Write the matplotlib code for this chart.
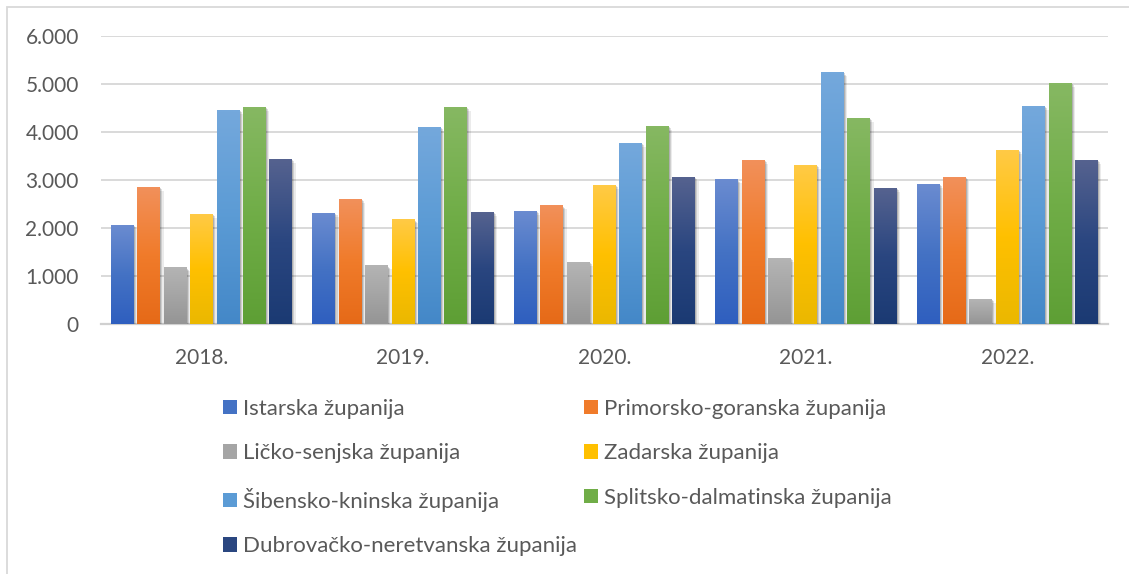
import numpy as np
import matplotlib
matplotlib.use("Agg")
import matplotlib.pyplot as plt
import matplotlib.patheffects as pe
from matplotlib.colors import to_rgb
from matplotlib.patches import Rectangle, Patch
from matplotlib.ticker import FuncFormatter

# DATA
years = ['2018.', '2019.', '2020.', '2021.', '2022.']
counties = ['Istarska županija', 'Primorsko-goranska županija', 'Ličko-senjska županija',
            'Zadarska županija', 'Šibensko-kninska županija', 'Splitsko-dalmatinska županija',
            'Dubrovačko-neretvanska županija']
istarska = [2060, 2310, 2350, 3000, 2910]
primorsko = [2850, 2600, 2460, 3410, 3060]
licko = [1170, 1210, 1290, 1370, 520]
zadarska = [2290, 2170, 2890, 3310, 3620]
sibensko = [4450, 4100, 3770, 5240, 4540]
splitsko = [4520, 4520, 4120, 4290, 5020]
dubrovacko = [3430, 2330, 3060, 2830, 3410]
series = [istarska, primorsko, licko, zadarska, sibensko, splitsko, dubrovacko]

# colours: (top, middle, bottom) of the vertical gradient
grads = [
    ('#6a8bd0', '#4472c4', '#2f5fbf'),
    ('#f2905a', '#f07b2a', '#e66a18'),
    ('#b4b4b4', '#a5a5a5', '#959595'),
    ('#ffca45', '#ffc000', '#ebb800'),
    ('#74a8dc', '#5b9bd5', '#4488c8'),
    ('#86b862', '#70ad47', '#5e9f35'),
    ('#55628f', '#2a4680', '#1b3a73'),
]

plt.rcParams['font.family'] = ['Lato', 'DejaVu Sans']
TXT = '#595959'
FS = 15

fig = plt.figure(figsize=(11.29, 5.74), dpi=100)
ax = fig.add_axes([101/1129, 1-324/574, (1108-101)/1129, (324-36)/574])

x = np.arange(len(years))
pitch = 0.131
width = 0.114
shadow = [pe.SimplePatchShadow(offset=(2.5, -2.5), shadow_rgbFace='k', alpha=0.08),
          pe.SimplePatchShadow(offset=(1.5, -1.5), shadow_rgbFace='k', alpha=0.12),
          pe.SimplePatchShadow(offset=(0.7, -0.7), shadow_rgbFace='k', alpha=0.15),
          pe.Normal()]

def grad_img(c):
    t, m, b = [np.array(to_rgb(k)) for k in c]
    s = np.linspace(0, 1, 64)[:, None]
    img = np.where(s < 0.5, t + (m - t) * (s / 0.5), m + (b - m) * ((s - 0.5) / 0.5))
    return img[:, None, :]

for i, vals in enumerate(series):
    offs = (i - 3) * pitch
    bars = ax.bar(x + offs, vals, width, color=grads[i][1], zorder=3, path_effects=shadow)
    img = grad_img(grads[i])
    for b in bars:
        ax.imshow(img, extent=[b.get_x(), b.get_x() + b.get_width(), 0, b.get_height()],
                  aspect='auto', zorder=4, interpolation='bilinear')

ax.set_xlim(-0.5, len(years) - 0.5)
ax.set_ylim(0, 6000)
ax.set_yticks(np.arange(0, 6001, 1000))
ax.yaxis.set_major_formatter(FuncFormatter(lambda v, p: f'{int(v):,}'.replace(',', '.')))
ax.set_xticks(x)
ax.set_xticklabels(years)
ax.grid(axis='y', color='#d9d9d9', lw=1.4, zorder=0)
ax.set_axisbelow(True)
for s in ['top', 'right', 'left']:
    ax.spines[s].set_visible(False)
ax.spines['bottom'].set_color('#d0d0d0')
ax.spines['bottom'].set_linewidth(1.6)
ax.spines['bottom'].set_zorder(2)
ax.tick_params(axis='both', length=0, labelsize=FS, labelcolor=TXT)
ax.tick_params(axis='y', pad=16)
ax.tick_params(axis='x', pad=17)

# legend, row-wise order in two columns
order = [0, 2, 4, 6, 1, 3, 5]
handles = [Patch(facecolor=grads[k][1], edgecolor='none') for k in order]
labels = [counties[k] for k in order]
fig.legend(handles, labels, ncol=2, loc='upper left', bbox_to_anchor=(223/1129, 1-399/574),
           frameon=False, fontsize=16, labelcolor=TXT, borderpad=0, borderaxespad=0,
           handlelength=0.63, handleheight=0.63, handletextpad=0.27,
           labelspacing=1.1, columnspacing=0.32)

# outer chart border
fig.patches.append(Rectangle((7/1129, -0.2), 1.2, 1 - 7/574 + 0.2, transform=fig.transFigure,
                             fill=False, edgecolor='#d9d9d9', lw=1.3))

fig.savefig('out.png', dpi=100)
